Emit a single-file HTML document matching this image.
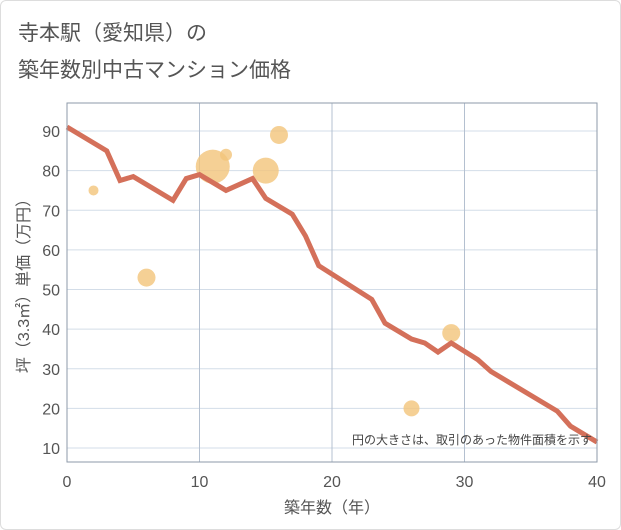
<!DOCTYPE html>
<html><head><meta charset="utf-8"><style>
body{margin:0;background:#fff;}
.frame{position:absolute;left:0;top:0;width:619px;height:528px;border:1px solid #ddd;border-radius:6px;}
text{font-family:"Liberation Sans","Noto Sans CJK JP",sans-serif;}
</style></head><body>
<div class="frame"></div>
<svg width="621" height="530" style="position:absolute;left:0;top:0">
<text x="18" y="40" font-size="21" fill="#555">寺本駅（愛知県）の</text>
<text x="18" y="77" font-size="21" fill="#555">築年数別中古マンション価格</text>
<g id="grid"></g><g id="bubbles"></g><g id="line"></g><g id="axes"></g>
<rect x="67" y="103" width="530" height="359" fill="none" stroke="#8e9aa8"/>
<text x="592" y="444" font-size="12" fill="#444" text-anchor="end">円の大きさは、取引のあった物件面積を示す</text>
<text x="332" y="513" font-size="16" fill="#555" text-anchor="middle">築年数（年）</text>
<text transform="translate(29,282) rotate(-90)" font-size="16" fill="#555" text-anchor="middle">坪（3.3㎡）単価（万円）</text>
</svg>
<script>
const xTicks=[0,10,20,30,40];
const yTicks=[10,20,30,40,50,60,70,80,90];
const lineX=[0,3,4,5,8,9,10,12,14,15,17,18,19,23,24,26,27,28,29,31,32,37,38,40];
const lineY=[91,85,77.5,78.5,72.5,78,79,75,78,73,69,63.5,56,47.5,41.5,37.5,36.5,34.2,36.5,32.3,29.3,19.3,15.5,11.5];
const bubX=[2,6,11,12,15,16,26,29];
const bubY=[75,53,81,84,80,89,20,39];
const bubR=[5,9,17,6,13,9,8,9];
const X=v=>67+v*13.25, Y=v=>448-(v-10)*3.9625;
const ns="http://www.w3.org/2000/svg";
function mk(t,a,p){const e=document.createElementNS(ns,t);for(const k in a)e.setAttribute(k,a[k]);p.appendChild(e);return e;}
const g=document.getElementById('grid'),ax=document.getElementById('axes');
yTicks.forEach(v=>{
 const l=mk('line',{x1:67,x2:597,y1:Y(v),y2:Y(v),stroke:'#d3dde8'},g);
 
 
 const t=mk('text',{x:60,y:Y(v)+6,'font-size':16,fill:'#555','text-anchor':'end'},ax);t.textContent=v;
 
 
});
xTicks.forEach(v=>{
 const l=mk('line',{x1:X(v),x2:X(v),y1:103,y2:462,stroke:'#b4c0d0'},g);
 
 
 const t=mk('text',{x:X(v),y:487,'font-size':16,fill:'#555','text-anchor':'middle'},ax);t.textContent=v;
 
 
});
const b=document.getElementById('bubbles');
bubX.forEach((v,i)=>{
 const c=mk('circle',{cx:X(v),cy:Y(bubY[i]),r:bubR[i],fill:'#f3c47a','fill-opacity':0.8},b);
 
 
});
const p=mk('polyline',{points:lineX.map((v,i)=>X(v)+','+Y(lineY[i])).join(' '),fill:'none',stroke:'#d4705a','stroke-width':5,'stroke-linejoin':'miter'},document.getElementById('line'));


</script>
</body></html>
